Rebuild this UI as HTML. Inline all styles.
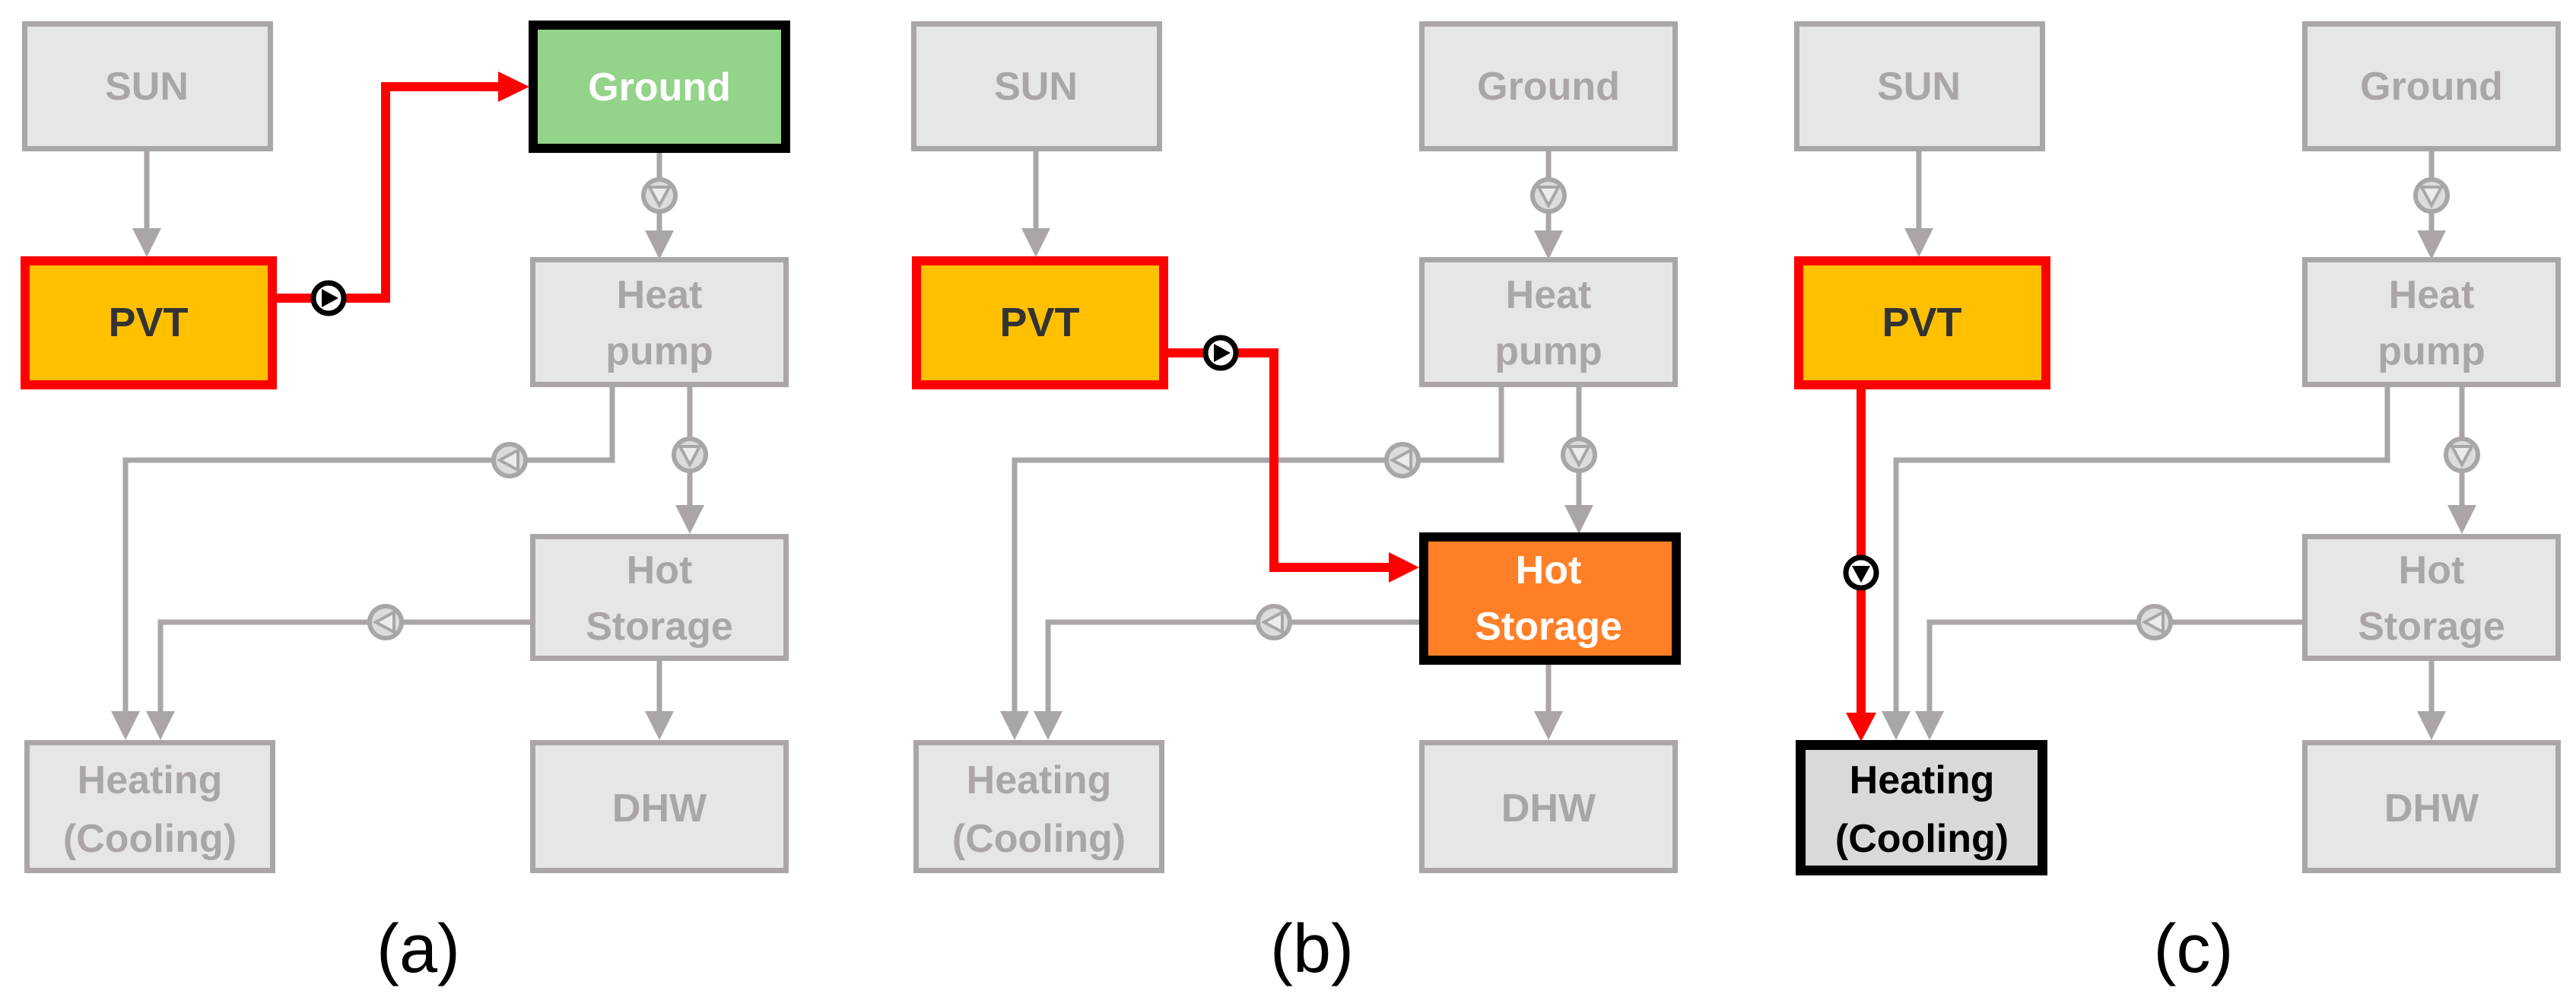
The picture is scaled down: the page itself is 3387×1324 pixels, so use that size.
<!DOCTYPE html>
<html><head><meta charset="utf-8"><style>
html,body{margin:0;padding:0;background:#fff;}
svg{display:block;}
text{font-family:"Liberation Sans",sans-serif;font-weight:bold;text-anchor:middle;}
.gt{fill:#aaa6a8;font-size:52px;}
.lbl{font-weight:normal;font-size:90px;fill:#000;}
</style></head><body>
<svg width="3387" height="1324" viewBox="0 0 3387 1324" xmlns="http://www.w3.org/2000/svg">
<defs>
<g id="gpR">
 <circle r="21" fill="#dcdcdc" stroke="#aaa6a8" stroke-width="6"/>
 <polygon points="-11,-13 -11,13 13,0" fill="#ececec" stroke="#aaa6a8" stroke-width="4"/>
</g>
<g id="bpR">
 <circle r="20" fill="#fff" stroke="#000" stroke-width="7"/>
 <polygon points="-9,-12 -9,12 13,0" fill="#000"/>
</g>
</defs>

<!-- ============ PANEL A ============ -->
<g transform="translate(0,0)">
 <g fill="none" stroke="#aaa6a8" stroke-width="7">
  <line x1="193" y1="199" x2="193" y2="310"/>
  <line x1="867" y1="200" x2="867" y2="310"/>
  <polyline points="805,509 805,605 165,605 165,945"/>
  <line x1="907" y1="509" x2="907" y2="670"/>
  <polyline points="697,818 211,818 211,945"/>
  <line x1="867" y1="869" x2="867" y2="945"/>
 </g>
 <g fill="#aaa6a8">
  <polygon points="174,300 212,300 193,338"/>
  <polygon points="848,303 886,303 867,341"/>
  <polygon points="888,664 926,664 907,702"/>
  <polygon points="146,935 184,935 165,973"/>
  <polygon points="192,935 230,935 211,973"/>
  <polygon points="848,935 886,935 867,973"/>
 </g>
 <use href="#gpR" transform="translate(867,257) rotate(90)"/>
 <use href="#gpR" transform="translate(670,605) rotate(180)"/>
 <use href="#gpR" transform="translate(907,598) rotate(90)"/>
 <use href="#gpR" transform="translate(507,818) rotate(180)"/>
 <polyline points="364,392 507,392 507,114 660,114" fill="none" stroke="#ff0000" stroke-width="12"/>
 <polygon points="655,94 655,134 696,114" fill="#ff0000"/>
 <use href="#bpR" transform="translate(432,392)"/>
 <rect x="32.5" y="31.5" width="323" height="164" fill="#e7e6e6" stroke="#aaa6a8" stroke-width="7"/>
 <text class="gt" x="193" y="131">SUN</text>
 <rect x="701" y="33" width="332" height="162" fill="#94d38a" stroke="#000" stroke-width="12"/>
 <text x="867" y="132" style="fill:#fff;font-size:52px;">Ground</text>
 <rect x="33" y="343" width="325" height="163" fill="#ffc000" stroke="#ff0000" stroke-width="12"/>
 <text x="195" y="442" style="fill:#333;font-size:54px;">PVT</text>
 <rect x="700.5" y="341.5" width="333" height="164" fill="#e7e6e6" stroke="#aaa6a8" stroke-width="7"/>
 <text class="gt" x="867" y="405">Heat</text><text class="gt" x="867" y="479">pump</text>
 <rect x="700.5" y="705.5" width="333" height="160" fill="#e7e6e6" stroke="#aaa6a8" stroke-width="7"/>
 <text class="gt" x="867" y="767">Hot</text><text class="gt" x="867" y="841">Storage</text>
 <rect x="35.5" y="976.5" width="323" height="168" fill="#e7e6e6" stroke="#aaa6a8" stroke-width="7"/>
 <text class="gt" x="197" y="1043">Heating</text><text class="gt" x="197" y="1120">(Cooling)</text>
 <rect x="700.5" y="976.5" width="333" height="168" fill="#e7e6e6" stroke="#aaa6a8" stroke-width="7"/>
 <text class="gt" x="867" y="1080">DHW</text>
 <text class="lbl" x="550" y="1278">(a)</text>
</g>

<!-- ============ PANEL B ============ -->
<g transform="translate(1169,0)">
 <g fill="none" stroke="#aaa6a8" stroke-width="7">
  <line x1="193" y1="199" x2="193" y2="310"/>
  <line x1="867" y1="199" x2="867" y2="310"/>
  <polyline points="805,509 805,605 165,605 165,945"/>
  <line x1="907" y1="509" x2="907" y2="670"/>
  <polyline points="697,818 209,818 209,945"/>
  <line x1="867" y1="869" x2="867" y2="945"/>
 </g>
 <g fill="#aaa6a8">
  <polygon points="174,300 212,300 193,338"/>
  <polygon points="848,303 886,303 867,341"/>
  <polygon points="888,664 926,664 907,702"/>
  <polygon points="146,935 184,935 165,973"/>
  <polygon points="190,935 228,935 209,973"/>
  <polygon points="848,935 886,935 867,973"/>
 </g>
 <use href="#gpR" transform="translate(867,257) rotate(90)"/>
 <use href="#gpR" transform="translate(675,605) rotate(180)"/>
 <use href="#gpR" transform="translate(907,598) rotate(90)"/>
 <use href="#gpR" transform="translate(506,818) rotate(180)"/>
 <polyline points="360,464 506,464 506,746 662,746" fill="none" stroke="#ff0000" stroke-width="12"/>
 <polygon points="657,726 657,766 697,746" fill="#ff0000"/>
 <use href="#bpR" transform="translate(436,464)"/>
 <rect x="32.5" y="31.5" width="323" height="164" fill="#e7e6e6" stroke="#aaa6a8" stroke-width="7"/>
 <text class="gt" x="193" y="131">SUN</text>
 <rect x="700.5" y="31.5" width="333" height="164" fill="#e7e6e6" stroke="#aaa6a8" stroke-width="7"/>
 <text class="gt" x="867" y="131">Ground</text>
 <rect x="36" y="343" width="325" height="163" fill="#ffc000" stroke="#ff0000" stroke-width="12"/>
 <text x="198" y="442" style="fill:#333;font-size:54px;">PVT</text>
 <rect x="700.5" y="341.5" width="333" height="164" fill="#e7e6e6" stroke="#aaa6a8" stroke-width="7"/>
 <text class="gt" x="867" y="405">Heat</text><text class="gt" x="867" y="479">pump</text>
 <rect x="703" y="706" width="332" height="162" fill="#ff7f27" stroke="#000" stroke-width="12"/>
 <text x="867" y="767" style="fill:#fff;font-size:52px;">Hot</text><text x="867" y="841" style="fill:#fff;font-size:52px;">Storage</text>
 <rect x="35.5" y="976.5" width="323" height="168" fill="#e7e6e6" stroke="#aaa6a8" stroke-width="7"/>
 <text class="gt" x="197" y="1043">Heating</text><text class="gt" x="197" y="1120">(Cooling)</text>
 <rect x="700.5" y="976.5" width="333" height="168" fill="#e7e6e6" stroke="#aaa6a8" stroke-width="7"/>
 <text class="gt" x="867" y="1080">DHW</text>
 <text class="lbl" x="556" y="1278">(b)</text>
</g>

<!-- ============ PANEL C ============ -->
<g transform="translate(2330,0)">
 <g fill="none" stroke="#aaa6a8" stroke-width="7">
  <line x1="193" y1="199" x2="193" y2="310"/>
  <line x1="867" y1="199" x2="867" y2="310"/>
  <polyline points="809,509 809,605 163,605 163,945"/>
  <line x1="907" y1="509" x2="907" y2="670"/>
  <polyline points="697,818 207,818 207,945"/>
  <line x1="867" y1="869" x2="867" y2="945"/>
 </g>
 <g fill="#aaa6a8">
  <polygon points="174,300 212,300 193,338"/>
  <polygon points="848,303 886,303 867,341"/>
  <polygon points="888,664 926,664 907,702"/>
  <polygon points="144,935 182,935 163,973"/>
  <polygon points="188,935 226,935 207,973"/>
  <polygon points="848,935 886,935 867,973"/>
 </g>
 <use href="#gpR" transform="translate(867,257) rotate(90)"/>
 <use href="#gpR" transform="translate(907,598) rotate(90)"/>
 <use href="#gpR" transform="translate(503,818) rotate(180)"/>
 <line x1="117" y1="512" x2="117" y2="942" stroke="#ff0000" stroke-width="12"/>
 <polygon points="97,937 137,937 117,975" fill="#ff0000"/>
 <use href="#bpR" transform="translate(117,753) rotate(90)"/>
 <rect x="32.5" y="31.5" width="323" height="164" fill="#e7e6e6" stroke="#aaa6a8" stroke-width="7"/>
 <text class="gt" x="193" y="131">SUN</text>
 <rect x="700.5" y="31.5" width="333" height="164" fill="#e7e6e6" stroke="#aaa6a8" stroke-width="7"/>
 <text class="gt" x="867" y="131">Ground</text>
 <rect x="35" y="343" width="325" height="163" fill="#ffc000" stroke="#ff0000" stroke-width="12"/>
 <text x="197" y="442" style="fill:#333;font-size:54px;">PVT</text>
 <rect x="700.5" y="341.5" width="333" height="164" fill="#e7e6e6" stroke="#aaa6a8" stroke-width="7"/>
 <text class="gt" x="867" y="405">Heat</text><text class="gt" x="867" y="479">pump</text>
 <rect x="700.5" y="705.5" width="333" height="160" fill="#e7e6e6" stroke="#aaa6a8" stroke-width="7"/>
 <text class="gt" x="867" y="767">Hot</text><text class="gt" x="867" y="841">Storage</text>
 <rect x="37.5" y="979.5" width="318" height="165" fill="#d9d9d9" stroke="#000" stroke-width="13"/>
 <text x="197" y="1043" style="fill:#000;font-size:52px;">Heating</text><text x="197" y="1120" style="fill:#000;font-size:52px;">(Cooling)</text>
 <rect x="700.5" y="976.5" width="333" height="168" fill="#e7e6e6" stroke="#aaa6a8" stroke-width="7"/>
 <text class="gt" x="867" y="1080">DHW</text>
 <text class="lbl" x="554" y="1278">(c)</text>
</g>
</svg>
</body></html>
